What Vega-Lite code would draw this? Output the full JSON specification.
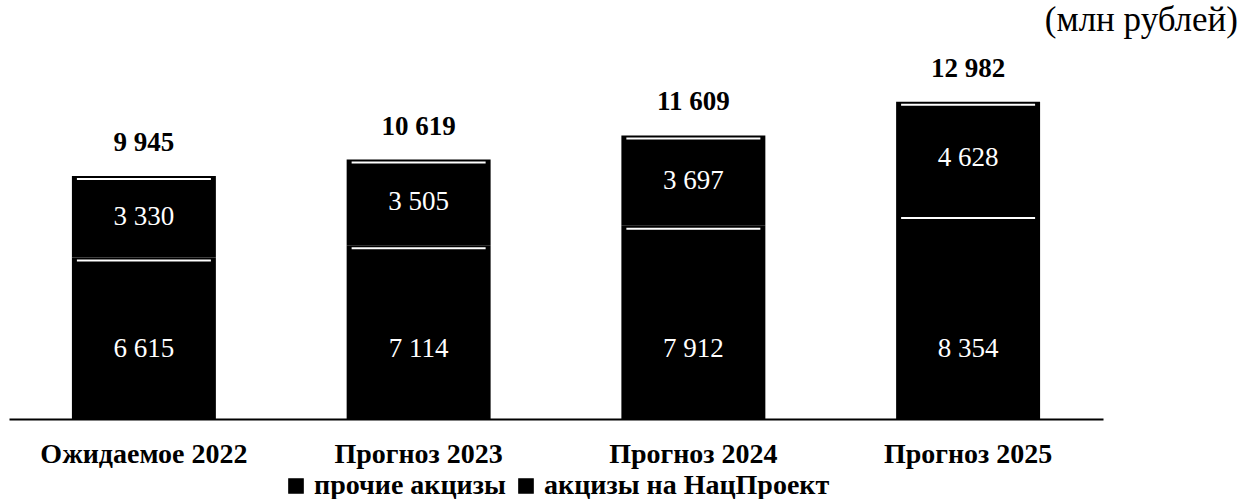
{
  "$schema": "https://vega.github.io/schema/vega-lite/v6.json",
  "width": 1094,
  "height": 342,
  "autosize": {"type": "none"},
  "padding": {"left": 9, "top": 77, "right": 156, "bottom": 80},
  "background": "white",
  "config": {
    "view": {"stroke": null},
    "font": "Liberation Serif",
    "locale": {"number": {"decimal": ",", "thousands": " ", "grouping": [3], "currency": ["", ""]}}
  },
  "title": {
    "text": "(млн рублей)",
    "anchor": "end",
    "orient": "top",
    "frame": "group",
    "font": "Liberation Serif",
    "fontSize": 35,
    "fontWeight": "normal",
    "color": "black",
    "dx": 135,
    "offset": 17
  },
  "data": {
    "values": [
      {"year": "Ожидаемое 2022", "series": "прочие акцизы", "value": 6615},
      {"year": "Ожидаемое 2022", "series": "акцизы на НацПроект", "value": 3330},
      {"year": "Прогноз 2023", "series": "прочие акцизы", "value": 7114},
      {"year": "Прогноз 2023", "series": "акцизы на НацПроект", "value": 3505},
      {"year": "Прогноз 2024", "series": "прочие акцизы", "value": 7912},
      {"year": "Прогноз 2024", "series": "акцизы на НацПроект", "value": 3697},
      {"year": "Прогноз 2025", "series": "прочие акцизы", "value": 8354},
      {"year": "Прогноз 2025", "series": "акцизы на НацПроект", "value": 4628}
    ]
  },
  "encoding": {
    "x": {
      "field": "year",
      "type": "nominal",
      "sort": null,
      "title": null,
      "scale": {"paddingInner": 0.476, "paddingOuter": 0.229},
      "axis": {
        "domainColor": "black",
        "domainWidth": 2,
        "ticks": false,
        "labelAngle": 0,
        "labelLimit": 0,
        "labelFont": "Liberation Serif",
        "labelFontSize": 28,
        "labelFontWeight": "bold",
        "labelColor": "black",
        "labelPadding": 21
      }
    }
  },
  "layer": [
    {
      "transform": [
        {"stack": "value", "groupby": ["year"], "sort": [{"field": "series", "order": "descending"}], "as": ["v0", "v1"]}
      ],
      "mark": {"type": "bar", "color": "black"},
      "encoding": {
        "y": {"field": "v0", "type": "quantitative", "scale": {"domain": [0, 14000]}, "axis": null},
        "y2": {"field": "v1"},
        "color": {
          "field": "series",
          "type": "nominal",
          "scale": {"domain": ["прочие акцизы", "акцизы на НацПроект"], "range": ["black", "black"]},
          "legend": {
            "orient": "none",
            "legendX": 273,
            "legendY": 395,
            "direction": "horizontal",
            "title": null,
            "symbolType": "square",
            "symbolSize": 200,
            "symbolStrokeColor": "black",
            "labelFont": "Liberation Serif",
            "labelFontSize": 28,
            "labelFontWeight": "bold",
            "labelColor": "black",
            "labelLimit": 0,
            "labelOffset": 4,
            "columnPadding": 6
          }
        }
      }
    },
    {
      "transform": [
        {"stack": "value", "groupby": ["year"], "sort": [{"field": "series", "order": "descending"}], "as": ["v0", "v1"]}
      ],
      "mark": {"type": "tick", "color": "white", "thickness": 2, "size": 134, "yOffset": 3, "opacity": 1},
      "encoding": {
        "y": {"field": "v1", "type": "quantitative", "scale": {"domain": [0, 14000]}, "axis": null}
      }
    },
    {
      "transform": [
        {"stack": "value", "groupby": ["year"], "sort": [{"field": "series", "order": "descending"}], "as": ["v0", "v1"]},
        {"filter": "datum.series === 'акцизы на НацПроект'"},
        {"calculate": "(datum.v0 + datum.v1) / 2", "as": "mid"}
      ],
      "mark": {"type": "text", "color": "white", "font": "Liberation Serif", "fontSize": 27, "baseline": "middle", "align": "center"},
      "encoding": {
        "y": {"field": "mid", "type": "quantitative", "scale": {"domain": [0, 14000]}, "axis": null},
        "text": {"field": "value", "type": "quantitative", "format": ",d"}
      }
    },
    {
      "transform": [
        {"filter": "datum.series === 'прочие акцизы'"}
      ],
      "mark": {"type": "text", "color": "white", "font": "Liberation Serif", "fontSize": 27, "baseline": "middle", "align": "center"},
      "encoding": {
        "y": {"datum": 2850, "type": "quantitative", "scale": {"domain": [0, 14000]}, "axis": null},
        "text": {"field": "value", "type": "quantitative", "format": ",d"}
      }
    },
    {
      "transform": [
        {"aggregate": [{"op": "sum", "field": "value", "as": "total"}], "groupby": ["year"]}
      ],
      "mark": {"type": "text", "color": "black", "font": "Liberation Serif", "fontSize": 27, "fontWeight": "bold", "baseline": "alphabetic", "align": "center", "dy": -25},
      "encoding": {
        "y": {"field": "total", "type": "quantitative", "scale": {"domain": [0, 14000]}, "axis": null},
        "text": {"field": "total", "type": "quantitative", "format": ",d"}
      }
    }
  ]
}
